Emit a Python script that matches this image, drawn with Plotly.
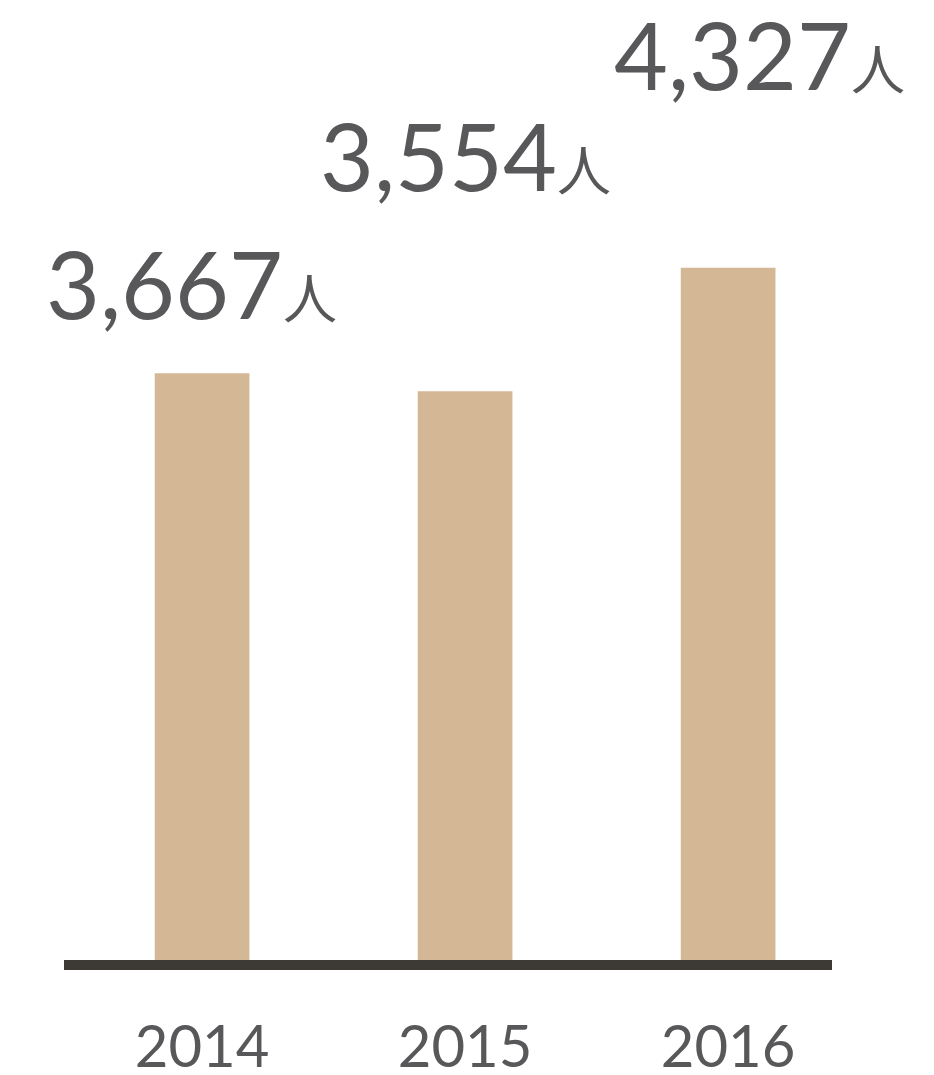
import plotly.graph_objects as go

years = ["2014", "2015", "2016"]
members = [3667, 3554, 4327]
label_text = ["3,667", "3,554", "4,327"]
label_x = [-0.04, 1.0, 2.12]
label_y = [4230, 5030, 5660]

bar_color = "#d4b794"
text_color = "#58585a"
font_family = "Lato, 'Noto Sans CJK JP', sans-serif"

fig = go.Figure()
fig.add_trace(go.Bar(
    x=list(range(len(years))),
    y=members,
    width=0.36,
    marker=dict(color=bar_color, line=dict(width=0)),
    hoverinfo="skip",
))

# big labels above the bars, stepped like the original
for t, lx, ly in zip(label_text, label_x, label_y):
    fig.add_annotation(
        x=lx, y=ly, xref="x", yref="y",
        text=t + "<span style='font-size:54px'>人</span>",
        showarrow=False,
        font=dict(family=font_family, size=93, color=text_color),
        xanchor="center", yanchor="middle",
    )

# page body has an 8px margin, so the figure is 8px smaller than the window
fig.update_layout(
    width=926, height=1067,
    margin=dict(l=56, r=102, t=12, b=115),
    paper_bgcolor="white", plot_bgcolor="white",
    showlegend=False,
    xaxis=dict(
        range=[-0.525, 2.395],
        tickmode="array",
        tickvals=list(range(len(years))),
        ticktext=years,
        showgrid=False, zeroline=False,
        showline=True, linecolor="#3d3935", linewidth=10,
        ticks="",
        automargin=False,
        ticklabelstandoff=27,
        tickfont=dict(family=font_family, size=58, color=text_color),
    ),
    yaxis=dict(
        range=[0, 5875],
        visible=False,
        automargin=False,
        showgrid=False, zeroline=False,
    ),
)

fig.write_html("out.html")
